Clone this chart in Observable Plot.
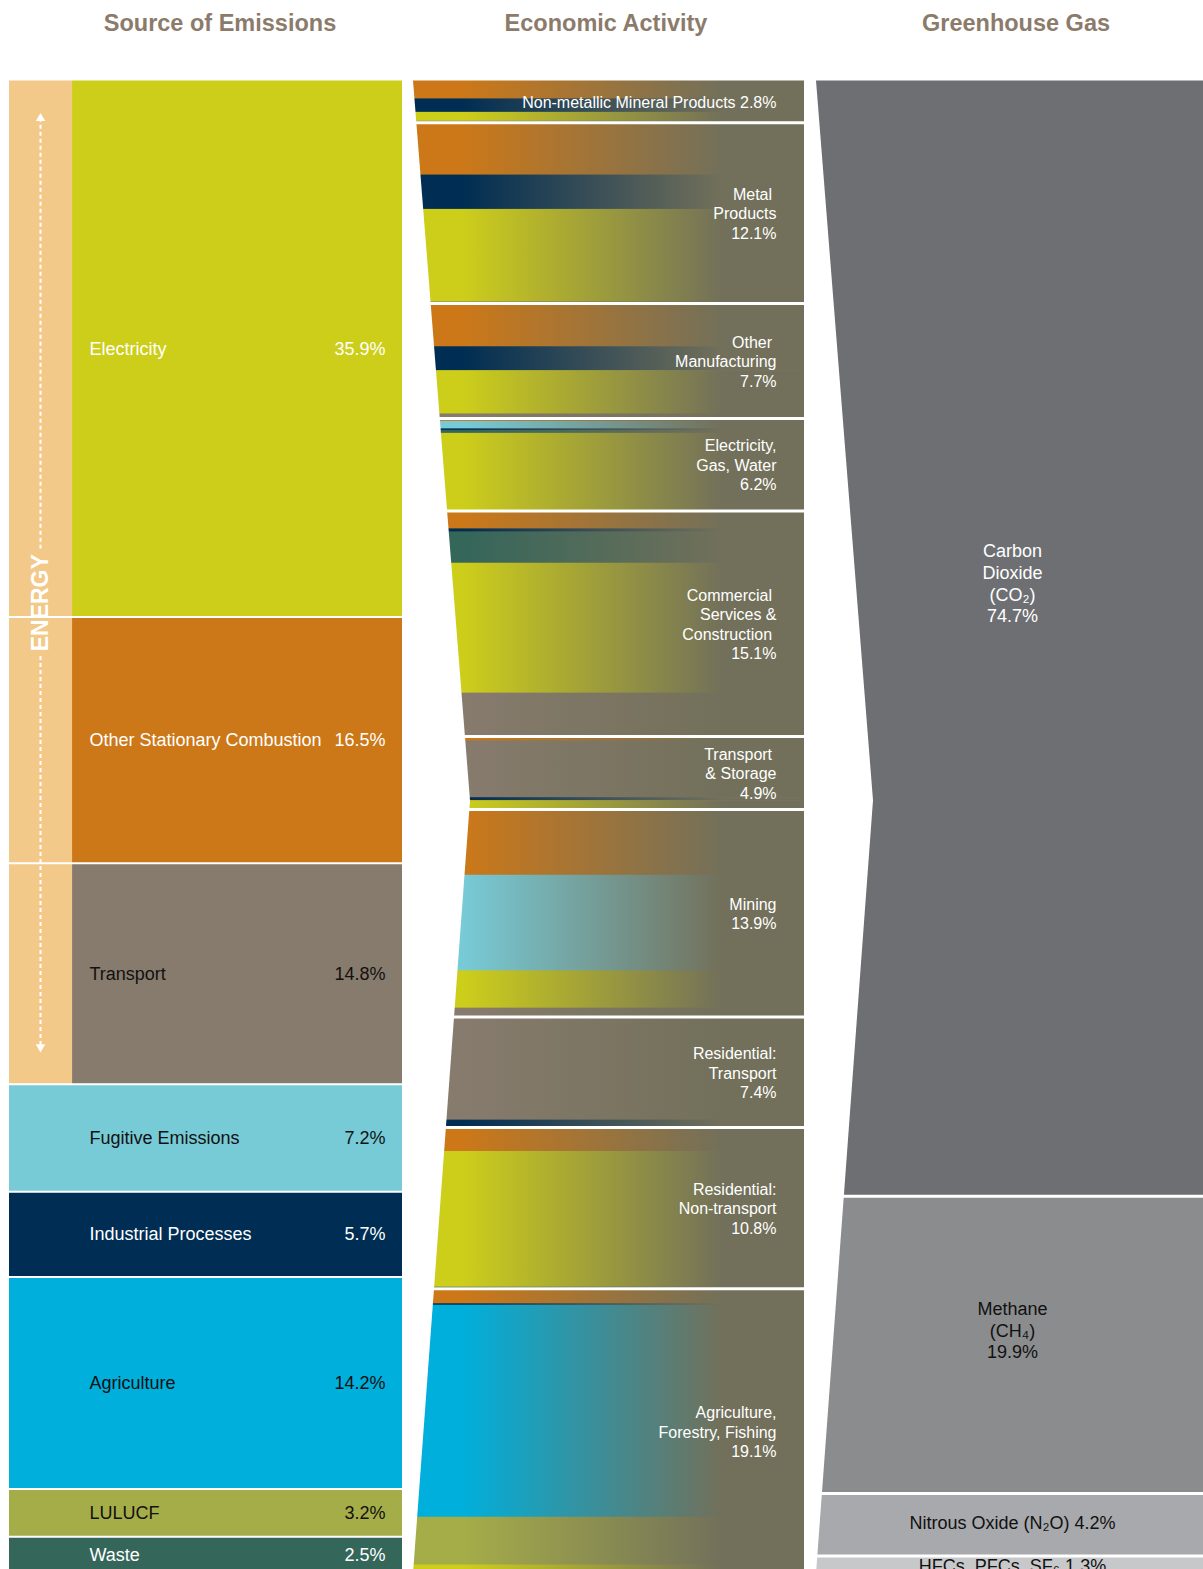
<!DOCTYPE html>
<html><head><meta charset="utf-8">
<script src="https://cdn.jsdelivr.net/npm/d3@7"></script>
<script src="https://cdn.jsdelivr.net/npm/@observablehq/plot@0.6"></script>
<style>
body{margin:0;background:#fff;font-family:"Liberation Sans",Arial,Helvetica,sans-serif;}
#hdr{position:relative;height:80px;width:1203px;}
#hdr span{position:absolute;top:10px;line-height:26px;transform:translateX(-50%);font-weight:bold;font-size:23.5px;color:#8c7b6a;white-space:nowrap;}
#chart svg{display:block;}
</style></head><body>
<div id="hdr"></div>
<div id="chart"></div>
<script>
// ---------------- DATA ----------------
const columnTitles = ["Source of Emissions", "Economic Activity", "Greenhouse Gas"];

const sourceCodes  = ["elec", "osc", "trans", "fug", "ind", "agri", "lulucf", "waste"];
const sourceNames  = ["Electricity", "Other Stationary Combustion", "Transport", "Fugitive Emissions",
                      "Industrial Processes", "Agriculture", "LULUCF", "Waste"];
const sourceValues = [35.9, 16.5, 14.8, 7.2, 5.7, 14.2, 3.2, 2.5];
const energyCodes  = ["elec", "osc", "trans"];
const energyLabel  = "ENERGY";

const activityNames  = ["Non-metallic Mineral Products", "Metal\u00a0\nProducts", "Other\u00a0\nManufacturing",
                        "Electricity,\nGas, Water", "Commercial\u00a0\nServices &\nConstruction\u00a0",
                        "Transport\u00a0\n& Storage", "Mining", "Residential:\nTransport",
                        "Residential:\nNon-transport", "Agriculture,\nForestry, Fishing"];
const activityValues = [2.8, 12.1, 7.7, 6.2, 15.1, 4.9, 13.9, 7.4, 10.8, 19.1];
// share of each activity by source, top to bottom
const activityMix = [
  [["osc", 1.2], ["ind", 0.9], ["elec", 0.6], ["trans", 0.1]],
  [["osc", 3.5], ["ind", 2.3], ["elec", 6.2], ["trans", 0.1]],
  [["osc", 2.9], ["ind", 1.6], ["elec", 2.9], ["trans", 0.3]],
  [["trans", 0.1], ["osc", 0.1], ["fug", 0.5], ["ind", 0.1], ["waste", 0.2], ["elec", 5.2]],
  [["osc", 1.2], ["ind", 0.2], ["waste", 2.1], ["elec", 8.7], ["trans", 2.9]],
  [["osc", 0.3], ["trans", 3.8], ["ind", 0.2], ["elec", 0.6]],
  [["osc", 4.4], ["fug", 6.4], ["elec", 2.5], ["trans", 0.6]],
  [["trans", 6.9], ["ind", 0.5]],
  [["osc", 1.6], ["elec", 9.1], ["ind", 0.1]],
  [["osc", 1.0], ["ind", 0.1], ["agri", 14.2], ["lulucf", 3.2], ["elec", 0.6]]
];

const gasNames  = ["Carbon\nDioxide\n(CO\u2082)", "Methane\n(CH\u2084)", "Nitrous Oxide (N\u2082O)", "HFCs, PFCs, SF\u2086"];
const gasValues = [74.7, 19.9, 4.2, 1.3];

// ---------------- STYLE ----------------
const sourceColors = ["#cdce1a", "#cc7818", "#877b6d", "#77cbd7", "#002d53", "#00afdc", "#a5ad48", "#34665a"];
const sourceInk    = ["#fff", "#fff", "#111", "#111", "#fff", "#111", "#111", "#fff"];
const gasColors    = ["#6e6f73", "#8b8c8e", "#a8a9ac", "#c7c8ca"];
const gasInk       = ["#fff", "#111", "#111", "#111"];
const bandColor = "#f2c989", fadeTo = "#72705a";
const FONT = '"Liberation Sans", Arial, Helvetica, sans-serif';

// layout (pixels on the x axis, percent units on the y axis)
const L = {
  srcX0: 9, bandX1: 71.5, srcX1: 402, srcLabelX: 89, srcValueX: 385, energyX: 40,
  midX0: 413, midApex: 470, midX1: 804, midLabelX: 776, fadeX0: 462, fadeX1: 722,
  gasX0: 816, gasApex: 873, gasX1: 1203, gasLabelX: 1012, gasLabelAt: 0.45,
  apexY: 48.2, titleX: [220, 606, 1016]
};

// ---------------- BUILD ----------------
function stack(values) { let acc = 0; return values.map(v => { const a = acc; acc += v; return [a, acc]; }); }

const srcStack = stack(sourceValues);
const sources = sourceNames.map((name, i) => ({
  name, code: sourceCodes[i], value: sourceValues[i], y1: srcStack[i][0], y2: srcStack[i][1],
  color: sourceColors[i], ink: sourceInk[i], energy: energyCodes.includes(sourceCodes[i])
}));
const energy = sources.filter(d => d.energy);
const energyTop = d3.min(energy, d => d.y1), energyBottom = d3.max(energy, d => d.y2);
const energyMid = energyTop + 0.52 * (energyBottom - energyTop);
const textHalf = 3.6, arrowInset = 2.5;

const actStack = stack(activityValues);
const activities = activityNames.map((name, i) => ({
  name, value: activityValues[i], y1: actStack[i][0], y2: actStack[i][1],
  label: name + ((name.includes("\n") || name.length < 10) ? "\n" : " ") + activityValues[i].toFixed(1) + "%"
}));
const flows = [];
activityMix.forEach((mix, i) => {
  let acc = actStack[i][0];
  mix.forEach(([code, v]) => { flows.push({activity: activityNames[i], code, y1: acc, y2: acc + v}); acc += v; });
});

const gasStack = stack(gasValues);
const gases = gasNames.map((name, i) => ({
  name, value: gasValues[i], y1: gasStack[i][0], y2: gasStack[i][1], color: gasColors[i], ink: gasInk[i],
  label: name + (name.includes("\n") ? "\n" : " ") + gasValues[i].toFixed(1) + "%"
}));

const midChevron = [{y: 0, x: L.midX0}, {y: L.apexY, x: L.midApex}, {y: 100, x: L.midX0}];
const gasChevron = [{y: 0, x: L.gasX0}, {y: L.apexY, x: L.gasApex}, {y: 100, x: L.gasX0}];
const inner = s => s.slice(0, -1).map(d => d[1]);

// header
d3.select("#hdr").selectAll("span").data(columnTitles).join("span")
  .style("left", (d, i) => L.titleX[i] + "px").text(d => d);

const chart = Plot.plot({
  width: 1203, height: 1500, margin: 0,
  x: {domain: [0, 1203], range: [0, 1203], axis: null},
  y: {domain: [0, 100], range: [0.5, 1493.5], axis: null},
  color: {type: "identity"},
  style: {fontFamily: FONT, background: "#fff", overflow: "visible"},
  marks: [
    // ---- source column
    Plot.rect(sources, {x1: d => d.energy ? L.bandX1 : L.srcX0, x2: () => L.srcX1, y1: "y1", y2: "y2", fill: "color", insetBottom: -0.6}),
    Plot.rect(energy, {x1: () => L.srcX0, x2: () => L.bandX1 + 0.6, y1: "y1", y2: "y2", fill: bandColor, insetBottom: -0.6}),
    Plot.ruleY(inner(srcStack), {y: d => d, x1: () => L.srcX0, x2: () => L.srcX1, stroke: "#fff", strokeWidth: 2}),
    Plot.text(sources, {x: () => L.srcLabelX, y: d => (d.y1 + d.y2) / 2, text: "name", fill: "ink", textAnchor: "start", fontSize: 18}),
    Plot.text(sources, {x: () => L.srcValueX, y: d => (d.y1 + d.y2) / 2, text: d => d.value.toFixed(1) + "%", fill: "ink", textAnchor: "end", fontSize: 18}),
    // energy marker
    Plot.ruleX([{y1: energyTop + arrowInset, y2: energyMid - textHalf}, {y1: energyMid + textHalf, y2: energyBottom - arrowInset}],
      {x: () => L.energyX, y1: "y1", y2: "y2", stroke: "#fff", strokeWidth: 2, strokeDasharray: "4,3"}),
    Plot.dot([{y: energyTop + arrowInset, r: 0}, {y: energyBottom - arrowInset, r: 180}],
      {x: () => L.energyX, y: "y", symbol: "triangle", r: 3.5, fill: "#fff", stroke: "none", rotate: "r"}),
    Plot.text([energyMid], {x: () => L.energyX, y: d => d, text: () => energyLabel, rotate: -90, fill: "#fff", fontWeight: "bold", fontSize: 23}),
    // ---- activity column
    Plot.rect(flows, {x1: () => L.midX0, x2: () => L.midX1, y1: "y1", y2: "y2", fill: d => `url(#grad-${d.code})`, insetBottom: -0.7}),
    Plot.ruleY(inner(actStack), {y: d => d, x1: () => L.midX0, x2: () => L.midX1, stroke: "#fff", strokeWidth: 3}),
    Plot.areaX(midChevron, {y: "y", x1: () => L.srcX1 + 1, x2: "x", fill: "#fff"}),
    Plot.text(activities, {x: () => L.midLabelX, y: d => (d.y1 + d.y2) / 2, text: "label", fill: "#fff", textAnchor: "end", fontSize: 16, lineHeight: 1.22}),
    // ---- gas column
    Plot.rect(gases, {x1: () => L.gasX0, x2: () => L.gasX1, y1: "y1", y2: "y2", fill: "color"}),
    Plot.ruleY(inner(gasStack), {y: d => d, x1: () => L.gasX0, x2: () => L.gasX1, stroke: "#fff", strokeWidth: 3}),
    Plot.areaX(gasChevron, {y: "y", x1: () => L.midX1 + 1, x2: "x", fill: "#fff"}),
    Plot.text(gases, {x: () => L.gasLabelX, y: d => d.y1 + L.gasLabelAt * (d.y2 - d.y1), text: "label", fill: "ink", textAnchor: "middle", fontSize: 18, lineHeight: 1.2})
  ]
});

// gradients for the activity flows (source colour fading to olive)
const xs = chart.scale("x");
const defs = d3.select(chart).insert("defs", ":first-child");
sourceCodes.forEach((c, i) => {
  const g = defs.append("linearGradient").attr("id", "grad-" + c).attr("gradientUnits", "userSpaceOnUse")
    .attr("x1", xs.apply(L.fadeX0)).attr("x2", xs.apply(L.fadeX1)).attr("y1", 0).attr("y2", 0);
  g.append("stop").attr("offset", 0).attr("stop-color", sourceColors[i]);
  g.append("stop").attr("offset", 1).attr("stop-color", fadeTo);
});
document.getElementById("chart").appendChild(chart);
</script>
</body></html>
